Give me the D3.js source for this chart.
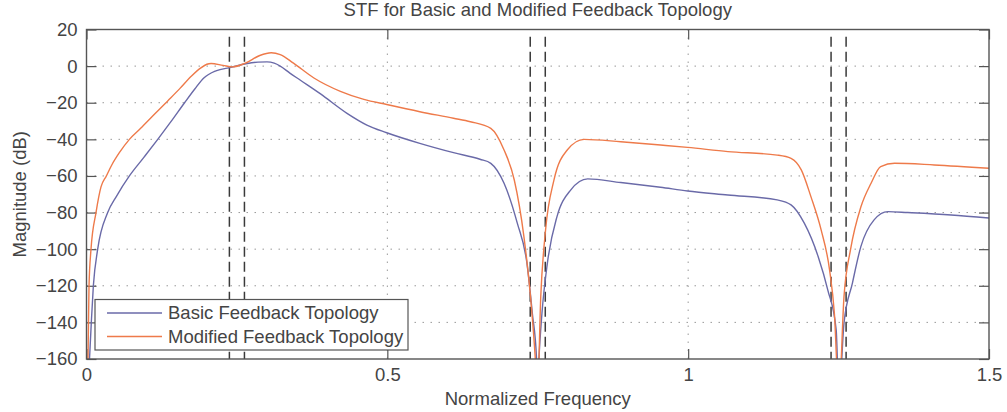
<!DOCTYPE html>
<html>
<head>
<meta charset="utf-8">
<script src="https://cdn.jsdelivr.net/npm/d3@7"></script>
<style>
  body { margin: 0; background: #fff; }
  svg { font-family: "Liberation Sans", Arial, sans-serif; }
  .tick text { fill: #444; font-size: 18.5px; }
</style>
</head>
<body>
<svg id="chart" width="1007" height="412"></svg>
<script>
// values: [normalized frequency, dB]
var basicSTF = [
  [0.002, -180], [0.005, -160], [0.008, -140], [0.0114, -120], [0.0186, -100],
  [0.0352, -80], [0.05, -71], [0.0713, -60], [0.095, -50], [0.1184, -40],
  [0.14, -30.5], [0.163, -20], [0.18, -12.5], [0.195, -6.5], [0.215, -2.6],
  [0.24, -0.7], [0.265, 1.3], [0.285, 2.2], [0.300, 2.3], [0.312, 1.6],
  [0.322, 0], [0.338, -3.8], [0.355, -7.6], [0.389, -15.2], [0.433, -25.8],
  [0.466, -32.2], [0.499, -36.4], [0.554, -42.2], [0.610, -47.3], [0.654, -50.9],
  [0.672, -53.1], [0.694, -64], [0.716, -85.8], [0.732, -107.6], [0.741, -135],
  [0.748, -160], [0.7495, -180], [0.752, -160], [0.757, -135], [0.766, -107.6],
  [0.782, -82.2], [0.805, -67.6], [0.833, -61.6], [0.888, -63.6], [0.954, -66.2],
  [0.999, -68.2], [1.066, -70.4], [1.148, -73.1], [1.171, -75.8], [1.193, -85.8],
  [1.216, -104], [1.232, -122.2], [1.246, -144], [1.2505, -180], [1.259, -140.4],
  [1.273, -118.5], [1.287, -98.6], [1.309, -84], [1.332, -79.5], [1.365, -80],
  [1.437, -81.3], [1.5, -83]
];

var modifiedSTF = [
  [0.001, -180], [0.0025, -160], [0.0042, -120], [0.0075, -100], [0.0158, -80],
  [0.0241, -66], [0.033, -60], [0.042, -54], [0.0546, -47.3], [0.0713, -40],
  [0.09, -34], [0.110, -27.3], [0.135, -19], [0.155, -12.3], [0.175, -5.3],
  [0.190, -1], [0.200, 1], [0.207, 1.45], [0.227, 0.4], [0.243, -0.4],
  [0.263, 1.45], [0.288, 5.8], [0.307, 7.3], [0.322, 6.3], [0.344, 1.6],
  [0.378, -6.5], [0.422, -13.8], [0.461, -18.2], [0.499, -21], [0.554, -24.9],
  [0.610, -28.5], [0.638, -30.4], [0.672, -34], [0.694, -45.8], [0.711, -62.2],
  [0.727, -93.1], [0.738, -125.9], [0.746, -160], [0.7495, -180], [0.755, -125.9],
  [0.763, -89.5], [0.777, -62.2], [0.799, -45.8], [0.827, -40], [0.888, -41.3],
  [0.954, -43.1], [0.999, -44.4], [1.066, -46.7], [1.148, -48.6], [1.171, -50.4],
  [1.188, -56.7], [1.204, -71.3], [1.221, -89.5], [1.235, -111.3], [1.243, -135],
  [1.2505, -180], [1.259, -125.9], [1.270, -100], [1.287, -77], [1.304, -64],
  [1.320, -54.9], [1.343, -53.1], [1.409, -54], [1.5, -55.8]
];

var seriesNames = ["Basic Feedback Topology", "Modified Feedback Topology"];
var xTicks = [0, 0.5, 1, 1.5];
var yTicks = [20, 0, -20, -40, -60, -80, -100, -120, -140, -160];
var bandEdges = [0.2375, 0.2625, 0.7375, 0.7625, 1.2375, 1.2625];
var bandTop = 16;

var colors = ["#6a6aa8", "#ee7a4a"];

// plot box in pixels (note: "top" is taken by window.top)
var plotLeft = 86.5, plotRight = 989, plotTop = 29.5, plotBottom = 359;

var svg = d3.select("#chart");

var x = d3.scaleLinear().domain([0, 1.5]).range([plotLeft, plotRight]);
var y = d3.scaleLinear().domain([-160, 20]).range([plotBottom, plotTop]);

svg.append("clipPath").attr("id", "plotClip")
  .append("rect")
    .attr("x", plotLeft).attr("y", plotTop)
    .attr("width", plotRight - plotLeft).attr("height", plotBottom - plotTop);

// dotted grid
var grid = svg.append("g").attr("stroke", "#999").attr("stroke-width", 1)
    .attr("stroke-dasharray", "1.5,6.5");
grid.selectAll(".hgrid")
  .data(yTicks.filter(function(d) { return d > -160 && d < 20; }))
  .enter().append("line")
    .attr("x1", plotLeft).attr("x2", plotRight)
    .attr("y1", function(d) { return y(d); })
    .attr("y2", function(d) { return y(d); });
grid.selectAll(".vgrid")
  .data(xTicks.filter(function(d) { return d > 0 && d < 1.5; }))
  .enter().append("line")
    .attr("y1", plotTop).attr("y2", plotBottom)
    .attr("x1", function(d) { return x(d); })
    .attr("x2", function(d) { return x(d); });

// axes, ticks pointing inward
var fmt = function(d) { return d3.format("")(d); };
svg.append("g")
    .attr("transform", "translate(" + plotLeft + ",0)")
    .call(d3.axisLeft(y).tickValues(yTicks).tickSize(-10).tickPadding(9).tickFormat(fmt));
svg.append("g")
    .attr("transform", "translate(" + plotRight + ",0)")
    .call(d3.axisRight(y).tickValues(yTicks).tickSize(-10).tickFormat(""));
svg.append("g")
    .attr("transform", "translate(0," + plotBottom + ")")
    .call(d3.axisBottom(x).tickValues(xTicks).tickSize(-10).tickPadding(9).tickFormat(fmt));
svg.append("g")
    .attr("transform", "translate(0," + plotTop + ")")
    .call(d3.axisTop(x).tickValues(xTicks).tickSize(-10).tickFormat(""));

svg.selectAll(".domain").remove();
svg.selectAll(".tick line").attr("stroke", "#555").attr("stroke-width", 1.2);

// band edges
svg.append("g").selectAll("line")
  .data(bandEdges)
  .enter().append("line")
    .attr("x1", function(d) { return x(d); })
    .attr("x2", function(d) { return x(d); })
    .attr("y1", y(bandTop)).attr("y2", plotBottom)
    .attr("stroke", "#3a3a3a").attr("stroke-width", 1.5)
    .attr("stroke-dasharray", "10,5");

// curves
var line = d3.line()
    .x(function(d) { return x(d[0]); })
    .y(function(d) { return y(d[1]); })
    .curve(d3.curveMonotoneX);

svg.append("g").attr("clip-path", "url(#plotClip)")
  .selectAll("path")
  .data([basicSTF, modifiedSTF])
  .enter().append("path")
    .attr("d", line)
    .attr("fill", "none")
    .attr("stroke", function(d, i) { return colors[i]; })
    .attr("stroke-width", 1.4);

// box
svg.append("rect")
    .attr("x", plotLeft).attr("y", plotTop)
    .attr("width", plotRight - plotLeft).attr("height", plotBottom - plotTop)
    .attr("fill", "none").attr("stroke", "#555").attr("stroke-width", 1.4);

// legend
var legend = svg.append("g");
legend.append("rect")
    .attr("x", 95).attr("y", 299.5).attr("width", 313).attr("height", 50.5)
    .attr("fill", "#fff").attr("stroke", "#555").attr("stroke-width", 1.2);
seriesNames.forEach(function(name, i) {
  var ly = 313 + i * 23.5;
  legend.append("line")
      .attr("x1", 107).attr("x2", 162).attr("y1", ly).attr("y2", ly)
      .attr("stroke", colors[i]).attr("stroke-width", 1.4);
  legend.append("text")
      .attr("x", 168).attr("y", ly).attr("dy", "0.35em")
      .attr("fill", "#444").style("font-size", "18.5px")
      .text(name);
});

// labels
svg.append("text")
    .attr("x", (plotLeft + plotRight) / 2).attr("y", 15.5)
    .attr("text-anchor", "middle").attr("fill", "#444").style("font-size", "18.5px")
    .text("STF for Basic and Modified Feedback Topology");
svg.append("text")
    .attr("x", (plotLeft + plotRight) / 2).attr("y", 405)
    .attr("text-anchor", "middle").attr("fill", "#444").style("font-size", "18.5px")
    .text("Normalized Frequency");
svg.append("text")
    .attr("transform", "translate(26," + ((plotTop + plotBottom) / 2) + ") rotate(-90)")
    .attr("text-anchor", "middle").attr("fill", "#444").style("font-size", "18.5px")
    .text("Magnitude (dB)");
</script>
</body>
</html>
